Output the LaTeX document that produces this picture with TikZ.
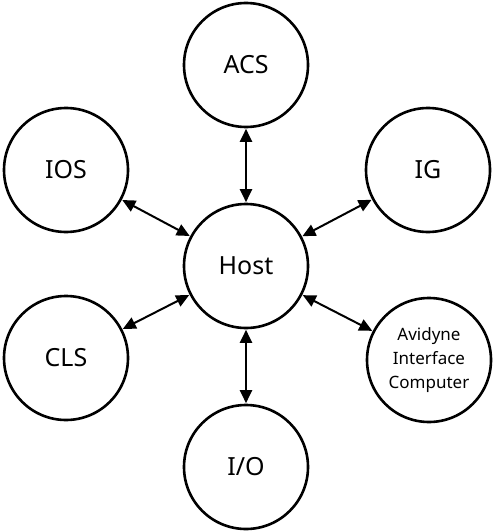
\documentclass[tikz,border=0pt]{standalone}
\usepackage{fontspec}
\setmainfont{Noto Sans}
\usetikzlibrary{arrows.meta}
\begin{document}
\begin{tikzpicture}[x=1pt,y=-1pt,
  sys/.style={circle,draw=black,line width=2.6pt,minimum size=124pt,inner sep=0pt,font=\fontsize{25}{29}\selectfont,align=center},
  small/.style={font=\fontsize{17}{24}\selectfont},
  link/.style={line width=2pt,{Triangle[length=13pt,width=12pt]}-{Triangle[length=13pt,width=12pt]},shorten <=0.5pt,shorten >=0.5pt}]
\useasboundingbox (0,0) rectangle (494,532);
\node[sys] (host) at (246,266) {Host};
\node[sys] (acs) at (246,65) {ACS};
\node[sys] (ios) at (66,170) {IOS};
\node[sys] (ig) at (428,170) {IG};
\node[sys] (cls) at (66,358) {CLS};
\node[sys,small] (avi) at (429,360) {Avidyne\\Interface\\Computer};
\node[sys] (io) at (246,467) {I/O};
\draw[link] (acs) -- (host);
\draw[link] (ios) -- (host);
\draw[link] (ig) -- (host);
\draw[link] (cls) -- (host);
\draw[link] (avi) -- (host);
\draw[link] (io) -- (host);
\end{tikzpicture}
\end{document}
